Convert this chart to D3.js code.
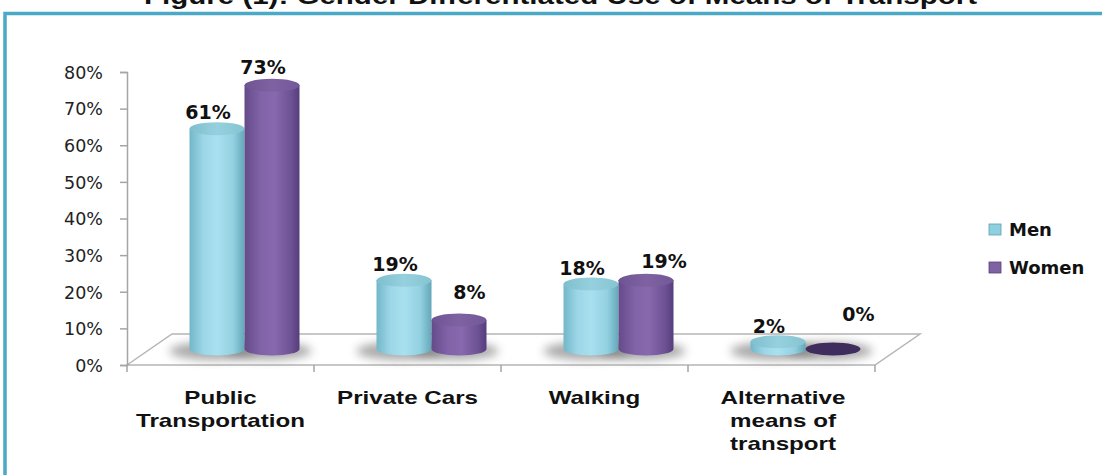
<!DOCTYPE html>
<html><head><meta charset="utf-8">
<script src="https://cdn.jsdelivr.net/npm/d3@7"></script>
<style>
html,body{margin:0;padding:0;background:#fff;overflow:hidden}
svg{display:block}
</style></head>
<body>
<svg id="chart" width="1102" height="475"></svg>
<script>
// ---- data ----
const title = "Figure (1): Gender Differentiated Use of Means of Transport";
const categories = ["Public Transportation", "Private Cars", "Walking", "Alternative means of transport"];
const categoryLines = [["Public", "Transportation"], ["Private Cars"], ["Walking"], ["Alternative", "means of", "transport"]];
const seriesNames = ["Men", "Women"];
const menValues = [0.61, 0.19, 0.18, 0.02];
const womenValues = [0.73, 0.08, 0.19, 0.00];
const yTicks = [0, 0.1, 0.2, 0.3, 0.4, 0.5, 0.6, 0.7, 0.8];

const svg = d3.select("#chart");
const defs = svg.append("defs");

// gradients
function hGrad(id, stops) {
  const g = defs.append("linearGradient").attr("id", id).attr("x1", "0").attr("x2", "1").attr("y1", "0").attr("y2", "0");
  stops.forEach(s => g.append("stop").attr("offset", s[0]).attr("stop-color", s[1]));
}
hGrad("menBody", [[0, "#72b7c8"], [0.25, "#9cd6e7"], [0.5, "#a9e0f0"], [0.8, "#92d0e0"], [1, "#63a7b8"]]);
hGrad("womenBody", [[0, "#654b8a"], [0.3, "#8163a8"], [0.55, "#8868ae"], [0.85, "#6c5193"], [1, "#563d7c"]]);
hGrad("menTop", [[0, "#7fbfce"], [0.5, "#96d0de"], [1, "#86c4d2"]]);
hGrad("womenTop", [[0, "#6f5494"], [0.5, "#7e62a2"], [1, "#735899"]]);
const blur = defs.append("filter").attr("id", "blur").attr("x", "-50%").attr("y", "-200%").attr("width", "200%").attr("height", "500%");
blur.append("feGaussianBlur").attr("stdDeviation", 5);

// title (partly cut off at the top, as in the reference)
svg.append("text").attr("x", 144).attr("y", 4)
  .attr("textLength", 833).attr("lengthAdjust", "spacingAndGlyphs")
  .style("font-family", "'Liberation Sans', Arial, sans-serif").style("font-weight", "bold").style("font-size", "23px")
  .attr("fill", "#111").text(title);

// frame
svg.append("path").attr("d", "M5,478 L5,13.5 L1105,13.5").attr("fill", "none").attr("stroke", "#4aaac5").attr("stroke-width", 3.5);

// scales
const x0 = d3.scaleBand().domain(categories).range([127, 875]).paddingInner(0).paddingOuter(0);
const yAxisScale = d3.scaleLinear().domain([0, 0.8]).range([365, 72]);
const yBar = d3.scaleLinear().domain([0, 0.8]).range([349, 60]);
const depthX = 45, depthY = 31;   // floor depth
const radius = 27.5, ry = 6.5;

// floor
const fl = x0.range()[0], fr = x0.range()[1], fy = yAxisScale(0);
svg.append("path")
  .attr("d", `M${fl},${fy} L${fl + depthX},${fy - depthY} L${fr + depthX},${fy - depthY} L${fr},${fy} Z`)
  .attr("fill", "#fff").attr("stroke", "#b5b5b5").attr("stroke-width", 1.5);

// x ticks at band boundaries
const boundaries = categories.map(c => x0(c)).concat([fr]);
svg.append("g").selectAll("line").data(boundaries).join("line")
  .attr("x1", d => d).attr("x2", d => d).attr("y1", fy).attr("y2", fy + 7)
  .attr("stroke", "#a5a5a5").attr("stroke-width", 1.5);

// y axis
const yAxis = d3.axisLeft(yAxisScale).tickValues(yTicks).tickFormat(d3.format(".0%")).tickSize(7).tickSizeOuter(7);
const gy = svg.append("g").attr("transform", `translate(${fl},0)`).call(yAxis);
gy.select(".domain").attr("stroke", "#a5a5a5").attr("stroke-width", 1.5);
gy.selectAll(".tick line").attr("stroke", "#a5a5a5").attr("stroke-width", 1.5);
gy.selectAll(".tick text").attr("x", -24).attr("dy", "0.36em").attr("fill", "#222")
  .style("font-family", "'DejaVu Sans', Verdana, sans-serif").style("font-size", "17.5px");

// bars
const series = [
  {name: "Men", values: menValues, body: "url(#menBody)", top: "url(#menTop)", dx: 90, flat: "#8fcfdf"},
  {name: "Women", values: womenValues, body: "url(#womenBody)", top: "url(#womenTop)", dx: 145, flat: "#3f2d5d"}
];
const base = yBar(0);
const gShadow = svg.append("g"), gBars = svg.append("g"), gLabels = svg.append("g");

series.forEach((s, si) => {
  categories.forEach((c, ci) => {
    const v = s.values[ci];
    const cx = x0(c) + s.dx;
    const top = yBar(v);
    gShadow.append("ellipse").attr("cx", cx - 4).attr("cy", base + 2).attr("rx", radius + 16).attr("ry", 9)
      .attr("fill", "#6f6f6f").attr("opacity", 0.6).attr("filter", "url(#blur)");
    if (v > 0) {
      gBars.append("path")
        .attr("d", `M${cx - radius},${top} L${cx - radius},${base} A${radius},${ry} 0 0 0 ${cx + radius},${base} L${cx + radius},${top} Z`)
        .attr("fill", s.body);
      gBars.append("ellipse").attr("cx", cx).attr("cy", top).attr("rx", radius).attr("ry", ry).attr("fill", s.top);
    } else {
      gBars.append("ellipse").attr("cx", cx).attr("cy", base).attr("rx", radius).attr("ry", ry).attr("fill", s.flat);
    }
    // data label placement (Excel-style nudging)
    let lx, ly;
    if (si === 0) { lx = cx - 9; ly = top - 16; }
    else { lx = cx + (ci === 0 ? -9 : 3 + 7.5 * ci); ly = top - 18 - 83 * Math.max(0, 0.2 - v); }
    gLabels.append("text").attr("x", lx).attr("y", ly).attr("dy", "0.36em").attr("text-anchor", "middle")
      .style("font-family", "'DejaVu Sans', Verdana, sans-serif").style("font-weight", "bold").style("font-size", "19px")
      .attr("fill", "#111").text(d3.format(".0%")(v));
  });
});

// category labels
categories.forEach((c, i) => {
  const cx = x0(c) + x0.bandwidth() / 2;
  const t = svg.append("text").attr("text-anchor", "middle")
    .attr("transform", `translate(${cx + (i === 3 ? 1.5 : 0)},403.5) scale(1.38,1)`)
    .style("font-family", "'Liberation Sans', Arial, sans-serif").style("font-weight", "bold").style("font-size", "17.5px")
    .attr("fill", "#111");
  categoryLines[i].forEach((ln, j) => t.append("tspan").attr("x", 0).attr("y", j * 23.5).text(ln));
});

// legend
const legend = svg.append("g");
seriesNames.forEach((n, i) => {
  const y = 229.5 + i * 38;
  legend.append("rect").attr("x", 989).attr("y", y - 5.5).attr("width", 12).attr("height", 11)
    .attr("fill", i === 0 ? "#8fd0e0" : "#7e62a2").attr("stroke", i === 0 ? "#5f9fb0" : "#5a4080").attr("stroke-width", 0.8);
  legend.append("text").attr("x", 1009).attr("y", y).attr("dy", "0.36em")
    .style("font-family", "'DejaVu Sans', Verdana, sans-serif").style("font-weight", "bold").style("font-size", "18px")
    .attr("fill", "#111").text(n);
});
</script>
</body></html>
